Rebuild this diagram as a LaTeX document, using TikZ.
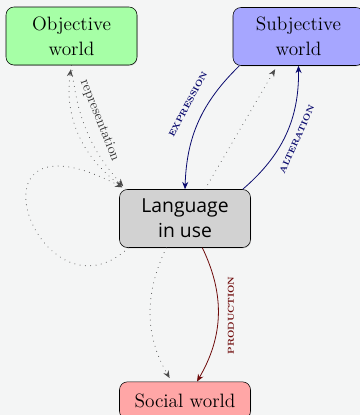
\documentclass[tikz,border=0pt]{standalone}
\usepackage{fontspec}
\setsansfont{Open Sans}
\usetikzlibrary{positioning}
\usetikzlibrary{shadows}
\usetikzlibrary{arrows.meta}
\definecolor{paper}{HTML}{F4F5F5}
\definecolor{exprcol}{HTML}{0A0A6E}
\definecolor{prodcol}{HTML}{6E0A0A}
\tikzstyle{world}=[draw=black, rounded corners=6pt, minimum width=98.25pt,
    minimum height=43.5pt, align=center, inner sep=2pt,
    font=\fontsize{14.5}{19}\selectfont,
    drop shadow={shadow xshift=0.4pt, shadow yshift=-0.6pt, opacity=0.35}]
\tikzstyle{influence}=[draw=black!70, line width=0.75pt, line cap=round,
    dash pattern=on 0.01pt off 4pt, -{Stealth[length=5.5pt,width=4.5pt,inset=1.8pt]},
    shorten >=3pt]
\tikzstyle{arc_blue}=[draw=exprcol, semithick, -{Stealth[length=5.5pt,width=4.5pt,inset=1.8pt]}]
\tikzstyle{arc_red}=[draw=prodcol, semithick, -{Stealth[length=5.5pt,width=4.5pt,inset=1.8pt]}]
\newcommand{\arclabel}[1]{{\fontsize{6.5}{7}\selectfont\bfseries\addfontfeatures{LetterSpace=8}#1}}

\begin{document}
\begin{tikzpicture}[x=0.75pt,y=0.75pt]
\fill[paper] (0,0) rectangle (360,-415);
\useasboundingbox (0,0) rectangle (360,-415);
\node[world, fill=green!35] (obj) at (71.5,-36) {Objective\\world};
\node[world, fill=blue!35] (subj) at (298.5,-36.5) {Subjective\\world};
\node[world, fill=gray!35, font=\sffamily\fontsize{14.5}{19}\selectfont] (lang) at (185,-218.5) {Language\\in use};
\node[world, fill=red!35, minimum height=28pt] (soc) at (185,-400.5) {Social world};
% language and the objective world
\draw[influence] (obj.south) to[bend right=18] node[above=3.5pt, sloped, pos=0.45, text=black!80,
    font=\fontsize{10.5}{12}\selectfont] {representation} ([xshift=5pt]lang.north west);
\draw[influence] ([xshift=5pt]lang.north west) to[bend left=32] (obj.south);
\draw[influence] ([xshift=7pt]lang.south west) .. controls (40,-330) and (-45,-100) .. ([xshift=5pt]lang.north west);
% language and the subjective world
\draw[arc_blue] ([xshift=5pt]subj.south west) to[bend right=22] node[above=7pt, sloped, pos=0.42, text=exprcol] {\arclabel{EXPRESSION}} (lang.north);
\draw[influence] ([xshift=15pt]lang.north) -- ([xshift=-16pt]subj.south);
\draw[arc_blue] ([xshift=-6pt]lang.north east) to[bend right=25] node[below=3pt, sloped, pos=0.5, text=exprcol] {\arclabel{ALTERATION}} (subj.south);
% language and the social world
\draw[influence] ([xshift=-14pt]lang.south) to[bend right=28] ([xshift=-10pt]soc.north);
\draw[arc_red] ([xshift=13pt]lang.south) to[bend left=28] node[anchor=north, rotate=90, inner sep=7pt, pos=0.5, text=prodcol] {\arclabel{PRODUCTION}} ([xshift=9pt]soc.north);
\end{tikzpicture}
\end{document}
